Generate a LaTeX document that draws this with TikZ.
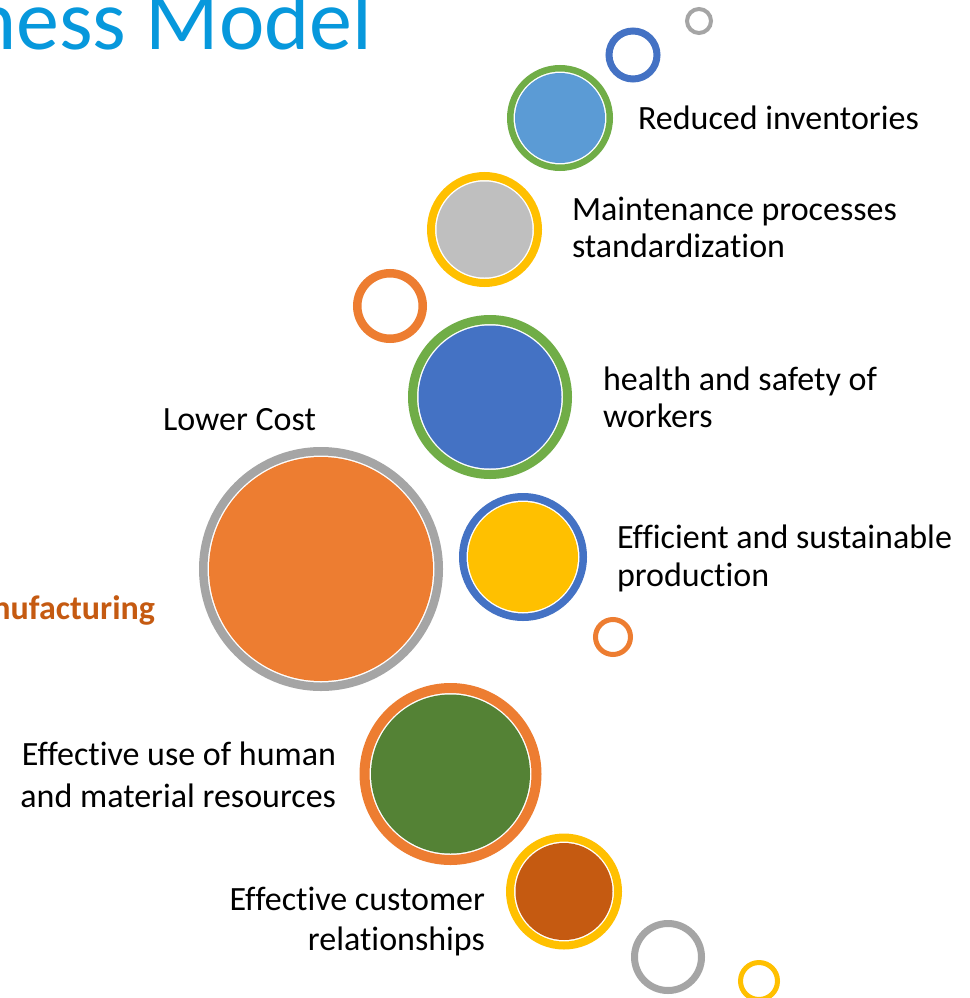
\documentclass[tikz,border=0pt]{standalone}
\usepackage{fontspec}
\setmainfont[Ligatures={NoCommon}]{Carlito}

\definecolor{accBlue}{HTML}{4472C4}
\definecolor{accLightBlue}{HTML}{5B9BD5}
\definecolor{accGreen}{HTML}{70AD47}
\definecolor{accDarkGreen}{HTML}{548235}
\definecolor{accOrange}{HTML}{ED7D31}
\definecolor{accRust}{HTML}{C55A11}
\definecolor{accGold}{HTML}{FFC000}
\definecolor{accGray}{HTML}{A5A5A5}
\definecolor{accSilver}{HTML}{BFBFBF}
\definecolor{titleBlue}{HTML}{0798DC}

% ring of outer radius #4 and thickness #5, centred at (#2,#3)
\newcommand{\bubbleRing}[6]{%
  \node[ringnode, draw=#6, line width=#5pt, minimum size={2*#4-#5}] (#1) at (#2,#3) {};
}
% ring with a filled disc inside, separated by a thin white gap
\newcommand{\bubbleDisc}[7]{%
  \bubbleRing{#1}{#2}{#3}{#4}{#5}{#6}
  \node[discnode, fill=#7, minimum size={2*(#4-#5-1.5)}] (#1-core) at (#1) {};
}

\begin{document}
\begin{tikzpicture}[x=1pt,y=-1pt,
  ringnode/.style={circle, inner sep=0pt, outer sep=0pt, fill=white},
  discnode/.style={circle, inner sep=0pt, outer sep=0pt, draw=none},
  lbl/.style={inner sep=0pt, outer sep=0pt, text=black,
              font=\fontsize{34}{40}\selectfont},
  lblL/.style={lbl, anchor=base west},
  lblR/.style={lbl, anchor=base east}]

\useasboundingbox (0,0) rectangle (969,998);
\fill[white] (0,0) rectangle (969,998);

% heading, running off the top left corner
\node[anchor=base west, inner sep=0pt, text=titleBlue,
      font=\fontsize{86}{92}\selectfont] (title) at (-29,50) {ness Model};

% bubbles, top to bottom
\bubbleRing{dotA}{699}{21}{14}{4}{accGray}
\bubbleRing{dotB}{633}{55}{27.5}{7}{accBlue}
\bubbleDisc{inv}{560}{118}{53}{6.5}{accGreen}{accLightBlue}
\bubbleDisc{maint}{484.5}{229.5}{57.5}{8}{accGold}{accSilver}
\bubbleRing{dotC}{390}{306}{37}{8.5}{accOrange}
\bubbleDisc{health}{490}{397}{82}{9}{accGreen}{accBlue}
\bubbleDisc{cost}{321}{569}{122}{8.5}{accGray}{accOrange}
\bubbleDisc{prod}{523}{557}{64}{7.5}{accBlue}{accGold}
\bubbleRing{dotD}{613}{637}{20}{5}{accOrange}
\bubbleDisc{res}{450.5}{774}{91}{10}{accOrange}{accDarkGreen}
\bubbleDisc{cust}{564}{891.5}{58}{8}{accGold}{accRust}
\bubbleRing{dotE}{668}{957}{37}{7}{accGray}
\bubbleRing{dotF}{759}{981}{21}{5}{accGold}

% labels
\node[lblL] (invT) at (638,129) {Reduced inventories};
\node[lblL] (maintT1) at (572,220) {Maintenance processes};
\node[lblL] (maintT2) at (572,257) {standardization};
\node[lblL] (healthT1) at (603,390) {health and safety of};
\node[lblL] (healthT2) at (603,427) {workers};
\node[lblL] (prodT1) at (617,548) {Efficient and sustainable};
\node[lblL] (prodT2) at (617,586) {production};
\node[lblL] (costT) at (163,430) {Lower Cost};
\node[lblR] (resT1) at (336,765) {Effective use of human};
\node[lblR] (resT2) at (336,807) {and material resources};
\node[lblR] (custT1) at (485,910) {Effective customer};
\node[lblR] (custT2) at (485,950) {relationships};
\node[lblR, text=accRust, font=\fontsize{34}{40}\selectfont\bfseries]
  (manuf) at (155,619) {nufacturing};

\end{tikzpicture}
\end{document}
